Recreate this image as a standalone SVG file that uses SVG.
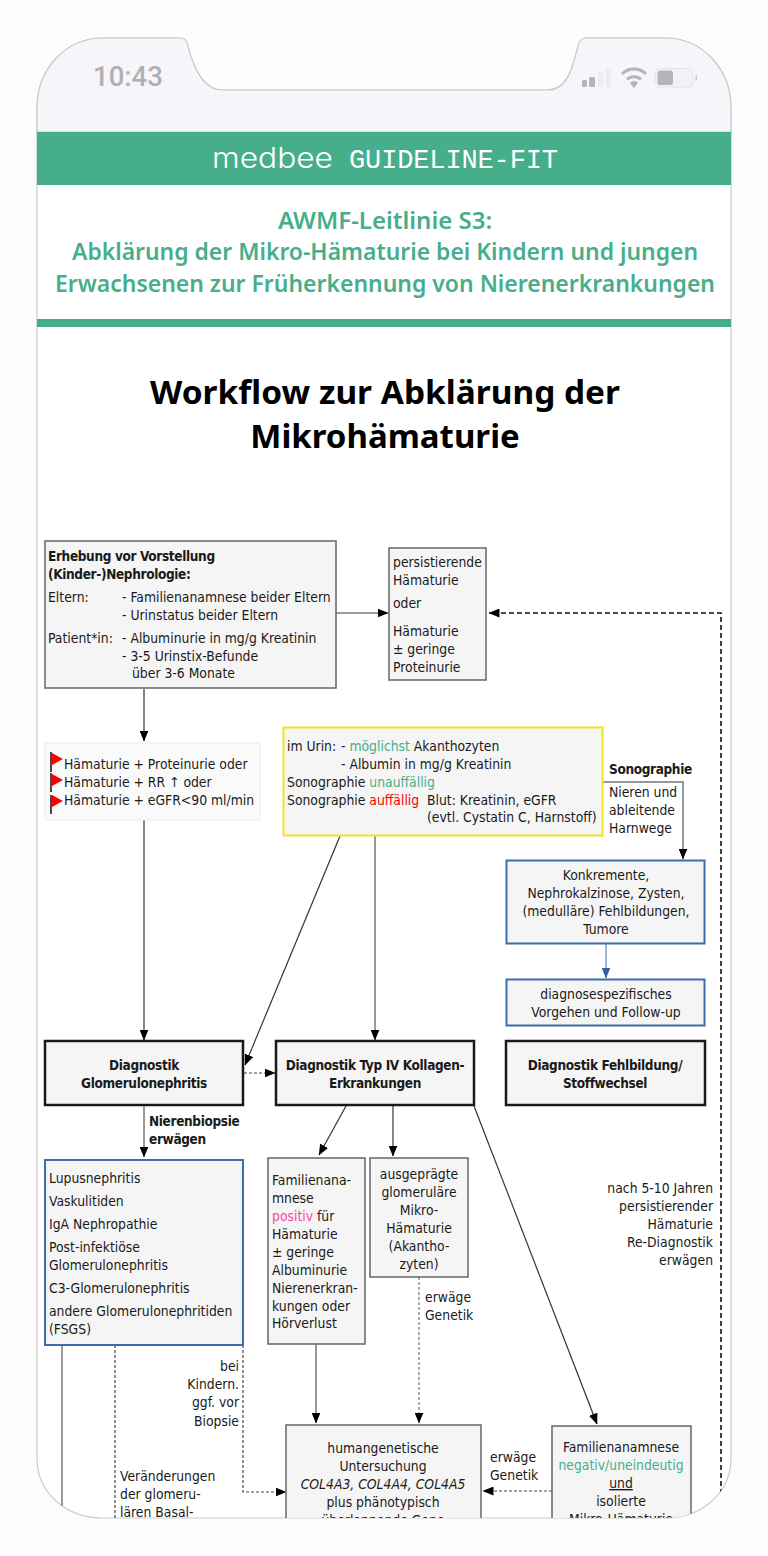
<svg xmlns="http://www.w3.org/2000/svg" width="768" height="1556" viewBox="0 0 768 1556">
<style>
text{font-family:"DejaVu Sans Condensed","DejaVu Sans",sans-serif;font-stretch:condensed;font-size:13.800px;fill:#1a1a1a}
.m{text-anchor:middle}.e{text-anchor:end}.b{font-weight:700;font-size:13.500px;letter-spacing:-.35px}
.g{fill:#47ae8b}.r{fill:#f00}
.box{fill:#f5f5f5;stroke:#666;stroke-width:1.5}
.blue{fill:#f5f5f5;stroke:#3a6eaa;stroke-width:2}
.dark{fill:#f5f5f5;stroke:#1a1a1a;stroke-width:2.5}
.ln{fill:none;stroke:#333;stroke-width:1.2}
.gl{fill:none;stroke:#777;stroke-width:1.5}
.ds{fill:none;stroke:#444;stroke-width:1.2;stroke-dasharray:3 2}
text.hd{font-family:"Noto Sans",sans-serif;font-stretch:normal;font-weight:600;font-size:24px;fill:#47ae8b;text-anchor:middle}
text.ti{font-family:"Noto Sans",sans-serif;font-stretch:normal;font-weight:700;font-size:33px;fill:#000;text-anchor:middle}
</style>
<defs>
<marker id="a" viewBox="0 0 11 9" refX="10.500" refY="4.500" markerWidth="11" markerHeight="9" markerUnits="userSpaceOnUse" orient="auto"><path d="M0 0L11 4.500L0 9z" fill="#000"/></marker>
<marker id="ab" viewBox="0 0 11 9" refX="10.500" refY="4.500" markerWidth="11" markerHeight="9" markerUnits="userSpaceOnUse" orient="auto"><path d="M0 0L11 4.500L0 9z" fill="#2f62a8"/></marker>
<clipPath id="phone"><path d="M37 132V108C37 70 65 38 103 38H181C186 38 187 42 188 46C193 66 202 90 222 90H548C568 90 573 66 578 46C579 42 581 38 586 38H665C703 38 731 70 731 108V1458C731 1492 703 1518 665 1518H103C65 1518 37 1492 37 1458Z"/></clipPath>
</defs>
<rect width="768" height="1556" fill="#fdfdfd"/>
<path d="M37 132V108C37 70 65 38 103 38H181C186 38 187 42 188 46C193 66 202 90 222 90H548C568 90 573 66 578 46C579 42 581 38 586 38H665C703 38 731 70 731 108V1458C731 1492 703 1518 665 1518H103C65 1518 37 1492 37 1458Z" fill="#fff" stroke="#ccc" stroke-width="1.2"/>
<g id="statusbar">
<path d="M37 132V108C37 70 65 38 103 38H181C186 38 187 42 188 46C193 66 202 90 222 90H548C568 90 573 66 578 46C579 42 581 38 586 38H665C703 38 731 70 731 108V132Z" fill="#f5f5fa" stroke="#ccc" stroke-width="1.2"/>
<text x="128" y="86" class="m" style="font-family:'Roboto',sans-serif;font-stretch:normal;font-size:27.500px;font-weight:500;fill:#b0b0b4">10:43</text>
<rect x="582" y="80" width="5" height="7" rx="1.500" fill="#b5b5b8"/><rect x="589" y="77" width="6" height="10" rx="1.500" fill="#b5b5b8"/><rect x="598" y="72" width="5" height="15" rx="1.500" fill="#ededf1"/><rect x="606" y="68" width="5" height="19" rx="1.500" fill="#ededf1"/>
<path d="M622 74A17 17 0 0 1 646 74M627 79.500A10 10 0 0 1 641 79.500" fill="none" stroke="#b5b5b8" stroke-width="3"/><path d="M630 83L634 88L638 83A5 5 0 0 0 630 83Z" fill="#b5b5b8"/>
<rect x="655" y="68.500" width="38" height="18.500" rx="4.500" fill="#f2f2f6" stroke="#e4e4e8"/><rect x="657.500" y="70.500" width="15.500" height="14.500" rx="2.500" fill="#b5b5b8"/><rect x="695.500" y="75" width="1.500" height="5.500" fill="#ccc"/>
</g>
<g id="header">
<rect x="37" y="132" width="694" height="53" fill="#47ae8b"/>
<text x="212" y="168" textLength="121" lengthAdjust="spacingAndGlyphs" style="font-family:'Inter',sans-serif;font-stretch:normal;font-size:28px;font-weight:300;fill:#fff">medbee</text>
<text x="349" y="168" textLength="209" lengthAdjust="spacing" style="font-family:'Liberation Mono',monospace;font-stretch:normal;font-size:27px;fill:#fff">GUIDELINE-FIT</text>
<text x="385" y="229" class="hd">AWMF-Leitlinie S3:</text>
<text x="385" y="260" class="hd" textLength="626" lengthAdjust="spacingAndGlyphs">Abklärung der Mikro-Hämaturie bei Kindern und jungen</text>
<text x="385" y="292" class="hd" textLength="660" lengthAdjust="spacingAndGlyphs">Erwachsenen zur Früherkennung von Nierenerkrankungen</text>
<rect x="37" y="319" width="694" height="8" fill="#47ae8b"/>
<text x="385" y="403.500" class="ti" textLength="470" lengthAdjust="spacingAndGlyphs">Workflow zur Abklärung der</text>
<text x="385" y="448" class="ti">Mikrohämaturie</text>
</g>
<g clip-path="url(#phone)">
<g id="connectors">
<path class="gl" d="M336 613H388" marker-end="url(#a)"/>
<path class="ln" style="stroke-dasharray:5 3;stroke:#111;stroke-width:1.6" d="M721 1510V613H489" marker-end="url(#a)"/>
<path class="ln" d="M144 689V741" marker-end="url(#a)"/>
<path class="ln" d="M144 820V1040" marker-end="url(#a)"/>
<path class="ln" d="M340 836L245 1065" marker-end="url(#a)"/>
<path class="gl" d="M375 836V1040" marker-end="url(#a)"/>
<path class="gl" d="M603 782H683V859" marker-end="url(#a)"/>
<path class="ln" style="stroke:#5a8ac0" d="M606 944V978" marker-end="url(#ab)"/>
<path class="ds" d="M244 1073H275" marker-end="url(#a)"/>
<path class="gl" d="M144 1106V1157" marker-end="url(#a)"/>
<path class="ln" d="M346 1106L319 1155" marker-end="url(#a)"/>
<path class="ln" d="M393 1106V1156" marker-end="url(#a)"/>
<path class="ln" d="M474 1106L597 1424" marker-end="url(#a)"/>
<path class="gl" d="M62 1345V1520"/>
<path class="ds" d="M115 1345V1520"/>
<path class="ds" d="M243 1345V1492H286" marker-end="url(#a)"/>
<path class="gl" d="M316 1344V1423" marker-end="url(#a)"/>
<path class="ds" style="stroke:#777" d="M419 1277V1423" marker-end="url(#a)"/>
<path class="ds" d="M552 1491H483" marker-end="url(#a)"/>
</g>
<g id="n-erhebung"><rect class="box" x="45" y="541" width="291" height="147"/>
<text x="48" y="561" class="b">Erhebung vor Vorstellung</text><text x="48" y="579" class="b">(Kinder-)Nephrologie:</text>
<text x="48" y="602">Eltern:</text><text x="122" y="602">- Familienanamnese beider Eltern</text><text x="122" y="620">- Urinstatus beider Eltern</text>
<text x="48" y="643">Patient*in:</text><text x="122" y="643">- Albuminurie in mg/g Kreatinin</text><text x="122" y="661">- 3-5 Urinstix-Befunde</text><text x="132" y="678">über 3-6 Monate</text></g>
<g id="n-persist"><rect class="box" x="389" y="548" width="97" height="132"/>
<text x="393" y="567">persistierende</text><text x="393" y="585">Hämaturie</text><text x="393" y="608">oder</text><text x="393" y="636">Hämaturie</text><text x="393" y="654">± geringe</text><text x="393" y="672">Proteinurie</text></g>
<g id="n-flags"><rect x="45" y="743" width="215" height="77" fill="#fafafa" stroke="#eee"/>
<path d="M52 753L63 759L52 765Z M52 774L63 780L52 786Z M52 795L63 801L52 807Z" fill="#f00"/>
<path d="M51 752V772M51 773V792M51 795V814" stroke="#111" stroke-width="1.500" fill="none"/>
<text x="64" y="769">Hämaturie + Proteinurie oder</text><text x="64" y="787">Hämaturie + RR ↑ oder</text><text x="64" y="805">Hämaturie + eGFR&lt;90 ml/min</text></g>
<g id="n-urin"><rect x="283.500" y="727.500" width="319" height="108" fill="#f5f5f5" stroke="#f4e41e" stroke-width="2"/>
<text x="287" y="751">im Urin:</text><text x="341" y="751">- <tspan class="g">möglichst</tspan> Akanthozyten</text><text x="341" y="769">- Albumin in mg/g Kreatinin</text>
<text x="287" y="787">Sonographie <tspan class="g">unauffällig</tspan></text><text x="287" y="805">Sonographie <tspan class="r">auffällig</tspan></text><text x="427" y="805">Blut: Kreatinin, eGFR</text><text x="427" y="822">(evtl. Cystatin C, Harnstoff)</text></g>
<g id="n-sono"><text x="609" y="774" class="b">Sonographie</text><text x="609" y="797">Nieren und</text><text x="609" y="815">ableitende</text><text x="609" y="833">Harnwege</text></g>
<g id="n-konk"><rect class="blue" x="506.500" y="860.500" width="198" height="83"/>
<text x="606" y="880" class="m">Konkremente,</text><text x="606" y="898" class="m">Nephrokalzinose, Zysten,</text><text x="606" y="916" class="m">(medulläre) Fehlbildungen,</text><text x="606" y="934" class="m">Tumore</text></g>
<g id="n-diagspez"><rect class="blue" x="506.500" y="979.500" width="198" height="46"/>
<text x="606" y="999" class="m">diagnosespezifisches</text><text x="606" y="1017" class="m">Vorgehen und Follow-up</text></g>
<g id="n-gn"><rect class="dark" x="45" y="1041" width="198" height="64"/><text x="144" y="1070" class="m b">Diagnostik</text><text x="144" y="1088" class="m b">Glomerulonephritis</text></g>
<g id="n-kollagen"><rect class="dark" x="276" y="1041" width="198" height="64"/><text x="375" y="1070" class="m b">Diagnostik Typ IV Kollagen-</text><text x="375" y="1088" class="m b">Erkrankungen</text></g>
<g id="n-fehl"><rect class="dark" x="506" y="1041" width="199" height="64"/><text x="605" y="1070" class="m b">Diagnostik Fehlbildung/</text><text x="605" y="1088" class="m b">Stoffwechsel</text></g>
<g id="l-biopsie"><text x="149" y="1126" class="b">Nierenbiopsie</text><text x="149" y="1144" class="b">erwägen</text></g>
<g id="n-lupus"><rect class="blue" x="45" y="1160" width="198" height="185"/>
<text x="49" y="1183">Lupusnephritis</text><text x="49" y="1206">Vaskulitiden</text><text x="49" y="1229">IgA Nephropathie</text><text x="49" y="1252">Post-infektiöse</text><text x="49" y="1270">Glomerulonephritis</text><text x="49" y="1293">C3-Glomerulonephritis</text><text x="49" y="1316">andere Glomerulonephritiden</text><text x="49" y="1334">(FSGS)</text></g>
<g id="n-fam"><rect class="box" x="268" y="1158" width="97" height="186"/>
<text x="272" y="1185">Familienana-</text><text x="272" y="1203">mnese</text><text x="272" y="1221"><tspan style="fill:#f4a">positiv</tspan> für</text><text x="272" y="1239">Hämaturie</text><text x="272" y="1257">± geringe</text><text x="272" y="1275">Albuminurie</text><text x="272" y="1293">Nierenerkran-</text><text x="272" y="1311">kungen oder</text><text x="272" y="1328">Hörverlust</text></g>
<g id="n-ausg"><rect class="box" x="370" y="1158" width="98" height="119"/>
<text x="419" y="1179" class="m">ausgeprägte</text><text x="419" y="1197" class="m">glomeruläre</text><text x="419" y="1215" class="m">Mikro-</text><text x="419" y="1233" class="m">Hämaturie</text><text x="419" y="1251" class="m">(Akantho-</text><text x="419" y="1269" class="m">zyten)</text></g>
<g id="l-labels">
<text x="425" y="1302">erwäge</text><text x="425" y="1320">Genetik</text>
<text x="713" y="1193" class="e">nach 5-10 Jahren</text><text x="713" y="1211" class="e">persistierender</text><text x="713" y="1229" class="e">Hämaturie</text><text x="713" y="1247" class="e">Re-Diagnostik</text><text x="713" y="1265" class="e">erwägen</text>
<text x="239" y="1371" class="e">bei</text><text x="239" y="1389" class="e">Kindern.</text><text x="239" y="1407" class="e">ggf. vor</text><text x="239" y="1426" class="e">Biopsie</text>
<text x="120" y="1481">Veränderungen</text><text x="120" y="1499">der glomeru-</text><text x="120" y="1517">lären Basal-</text>
<text x="490" y="1462">erwäge</text><text x="490" y="1480">Genetik</text></g>
<g id="n-human"><rect class="box" x="286" y="1425" width="195" height="120"/>
<text x="383" y="1453" class="m">humangenetische</text><text x="383" y="1471" class="m">Untersuchung</text><text x="383" y="1489" class="m" font-style="italic">COL4A3, COL4A4, COL4A5</text><text x="383" y="1507" class="m">plus phänotypisch</text><text x="383" y="1525" class="m">überlappende Gene</text></g>
<g id="n-famneg"><rect class="box" x="552" y="1426" width="139" height="120"/>
<text x="621" y="1452" class="m">Familienanamnese</text><text x="621" y="1470" class="m g">negativ/uneindeutig</text><text x="621" y="1488" class="m" text-decoration="underline">und</text><text x="621" y="1506" class="m">isolierte</text><text x="621" y="1524" class="m">Mikro-Hämaturie</text></g>
</g>
</svg>
